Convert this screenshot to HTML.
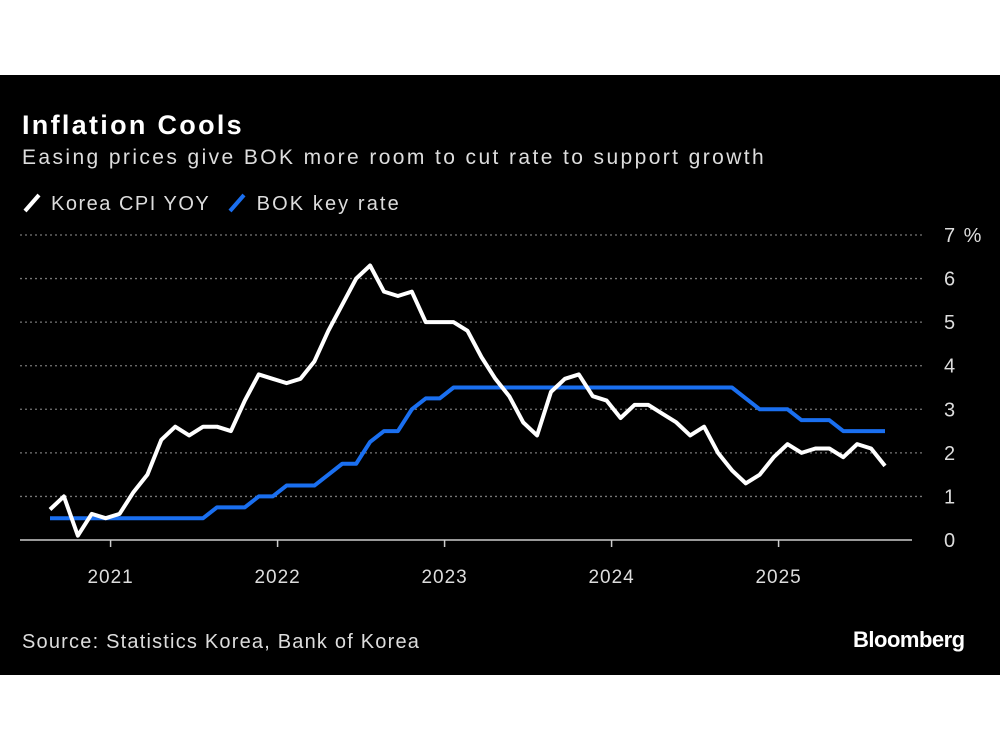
<!DOCTYPE html>
<html><head><meta charset="utf-8"><style>
body{margin:0;background:#fff;width:1000px;height:750px;overflow:hidden;font-family:"Liberation Sans",sans-serif}
#panel{position:absolute;left:0;top:75px;width:1000px;height:600px;background:#000}
.t{position:absolute;color:#fff;white-space:nowrap}
</style></head><body>
<div id="panel">
<div class="t" style="left:22px;top:35px;font-size:27px;font-weight:bold;letter-spacing:2.3px">Inflation Cools</div>
<div class="t" style="left:22px;top:71px;font-size:21px;color:#ddd;letter-spacing:2.4px">Easing prices give BOK more room to cut rate to support growth</div>
<div class="t" style="left:22px;top:117px;font-size:20px;color:#ddd;letter-spacing:1.5px"><svg width="22" height="22" style="vertical-align:-4px"><line x1="3" y1="19" x2="17" y2="3" stroke="#fff" stroke-width="4"/></svg> Korea CPI YOY</div>
<div class="t" style="left:227px;top:117px;font-size:20px;color:#ddd;letter-spacing:2.1px"><svg width="22" height="22" style="vertical-align:-4px"><line x1="3" y1="19" x2="17" y2="3" stroke="#1a6ff0" stroke-width="4"/></svg> BOK key rate</div>
<div class="t" style="left:22px;top:556px;font-size:20px;color:#ddd;letter-spacing:1.2px">Source: Statistics Korea, Bank of Korea</div>
<div class="t" style="left:853px;top:552px;font-size:22px;font-weight:bold;letter-spacing:-0.5px">Bloomberg</div>
</div>
<svg id="chart" width="1000" height="750" style="position:absolute;left:0;top:0"></svg>
<script>
const cpi=[0.7,1.0,0.1,0.6,0.5,0.6,1.1,1.5,2.3,2.6,2.4,2.6,2.6,2.5,3.2,3.8,3.7,3.6,3.7,4.1,4.8,5.4,6.0,6.3,5.7,5.6,5.7,5.0,5.0,5.0,4.8,4.2,3.7,3.3,2.7,2.4,3.4,3.7,3.8,3.3,3.2,2.8,3.1,3.1,2.9,2.7,2.4,2.6,2.0,1.6,1.3,1.5,1.9,2.2,2.0,2.1,2.1,1.9,2.2,2.1,1.7];
const bok=[0.5,0.5,0.5,0.5,0.5,0.5,0.5,0.5,0.5,0.5,0.5,0.5,0.75,0.75,0.75,1.0,1.0,1.25,1.25,1.25,1.5,1.75,1.75,2.25,2.5,2.5,3.0,3.25,3.25,3.5,3.5,3.5,3.5,3.5,3.5,3.5,3.5,3.5,3.5,3.5,3.5,3.5,3.5,3.5,3.5,3.5,3.5,3.5,3.5,3.5,3.25,3.0,3.0,3.0,2.75,2.75,2.75,2.5,2.5,2.5,2.5];
const yTicks=[0,1,2,3,4,5,6,7];
const xYears=["2021","2022","2023","2024","2025"];
const xYearIdx=[5,17,29,41,53];
const svg=document.getElementById('chart');const NS='http://www.w3.org/2000/svg';
const x=i=>50+i*(835/60), y=v=>540-v*(305/7);
function mk(t,a){const e=document.createElementNS(NS,t);for(const k in a)e.setAttribute(k,a[k]);svg.appendChild(e);return e;}
yTicks.forEach(v=>{
 if(v>0){const g=mk('line',{x1:20,x2:925,y1:y(v),y2:y(v),stroke:'#777','stroke-width':1.3,'stroke-dasharray':'2,3'});
 
 }
 const t=mk('text',{x:944,y:y(v)+7,fill:'#ddd','font-size':20,'text-anchor':'start','font-family':'Liberation Sans','letter-spacing':'1.5'});
 t.textContent=v===7?'7 %':String(v);
 
 
});
const ax=mk('line',{x1:20,x2:912,y1:540,y2:540,stroke:'#ccc','stroke-width':1.5});


xYears.forEach((lab,k)=>{
 const px=x(xYearIdx[k])-9;
 const tk=mk('line',{x1:px,x2:px,y1:540,y2:547,stroke:'#ccc','stroke-width':1.5});
 
 
 const t=mk('text',{x:px,y:583,fill:'#ddd','font-size':19,'text-anchor':'middle','font-family':'Liberation Sans','letter-spacing':'1'});
 t.textContent=lab;
 
 
});
function line(arr,col,name){
 const p=mk('polyline',{points:arr.map((v,i)=>x(i)+','+y(v)).join(' '),fill:'none',stroke:col,'stroke-width':4,'stroke-linejoin':'round'});
 
 
}
line(bok,'#1a6ff0','bok-rate-line');
line(cpi,'#fff','cpi-line');
</script>
</body></html>
